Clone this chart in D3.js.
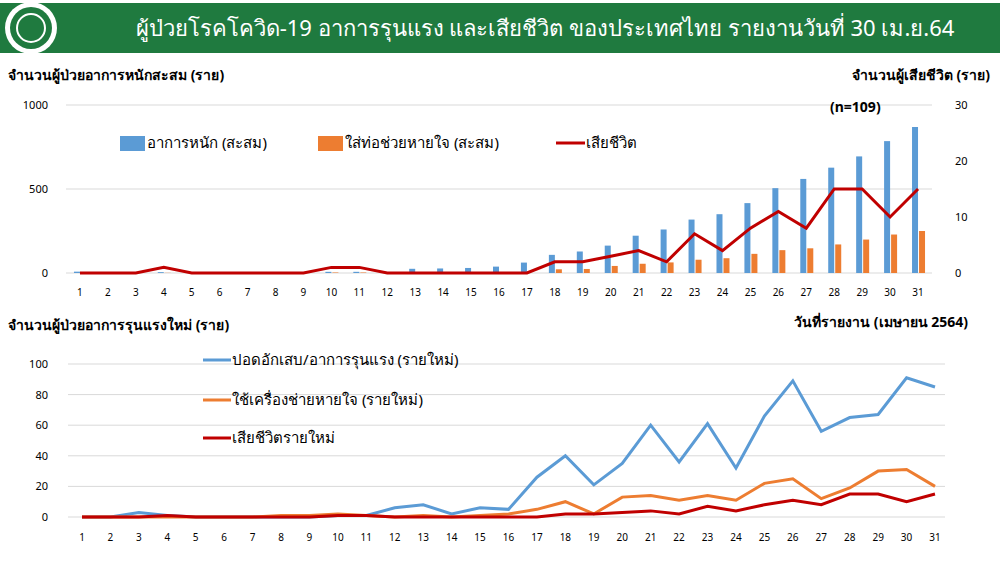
<!DOCTYPE html>
<html>
<head>
<meta charset="utf-8">
<script src="https://cdn.jsdelivr.net/npm/d3@7"></script>
<style>
  body { margin: 0; background: #fff; font-family: "Noto Sans", "DejaVu Sans", sans-serif; }
</style>
</head>
<body>
<svg id="chart" width="1000" height="563"></svg>
<script>
const days = d3.range(1, 32);
// top chart: cumulative
const severeCum = [8, 2, 2, 5, 2, 3, 3, 3, 3, 7, 7, 3, 25, 27, 30, 38, 62, 108, 128, 163, 222, 259, 318, 350, 416, 505, 560, 627, 694, 785, 869];
const ventCum = [0, 0, 0, 1, 0, 0, 0, 0, 0, 3, 3, 0, 0, 0, 0, 0, 0, 22, 24, 42, 55, 63, 79, 88, 114, 136, 147, 170, 199, 229, 250];
const deaths = [0, 0, 0, 1, 0, 0, 0, 0, 0, 1, 1, 0, 0, 0, 0, 0, 0, 2, 2, 3, 4, 2, 7, 4, 8, 11, 8, 15, 15, 10, 15];
// bottom chart: new daily
const severeNew = [0, 0, 3, 1, 0, 0, 0, 0, 0, 1, 1, 6, 8, 2, 6, 5, 26, 40, 21, 35, 60, 36, 61, 32, 66, 89, 56, 65, 67, 91, 85];
const ventNew = [0, 0, 0, 0, 0, 0, 0, 1, 1, 2, 1, 0, 1, 0, 1, 2, 5, 10, 2, 13, 14, 11, 14, 11, 22, 25, 12, 19, 30, 31, 20];
const deathsNew = deaths;
const leftTicks = [0, 500, 1000];
const rightTicks = [0, 10, 20, 30];
const bottomTicks = [0, 20, 40, 60, 80, 100];

const blue = "#5b9bd5", orange = "#ed7d31", red = "#c00000";
const svg = d3.select("#chart");
const font = "'Noto Sans', sans-serif";

// header
svg.append("rect").attr("x", 0).attr("y", 3).attr("width", 1000).attr("height", 50).attr("fill", "#1f7a3f");
svg.append("circle").attr("cx", 31).attr("cy", 28).attr("r", 26).attr("fill", "#fff");
svg.append("circle").attr("cx", 31).attr("cy", 28).attr("r", 21).attr("fill", "#1f7a3f");
svg.append("circle").attr("cx", 31).attr("cy", 28).attr("r", 14).attr("fill", "none").attr("stroke", "#fff").attr("stroke-width", 2);
svg.append("text").attr("x", 545).attr("y", 36).attr("text-anchor", "middle").attr("fill", "#fff")
  .style("font-family", font).style("font-size", "22px")
  .text("ผู้ป่วยโรคโควิด-19 อาการรุนแรง และเสียชีวิต ของประเทศไทย รายงานวันที่ 30 เม.ย.64");

// ---------- top chart ----------
const x1 = d3.scaleBand().domain(days).range([66, 932]);
const yL = d3.scaleLinear().domain([0, 1000]).range([273, 105]);
const yR = d3.scaleLinear().domain([0, 30]).range([273, 105]);

svg.append("g").selectAll("line").data(leftTicks).join("line")
  .attr("x1", 66).attr("x2", 932).attr("y1", d => yL(d)).attr("y2", d => yL(d))
  .attr("stroke", "#d9d9d9");
svg.append("g").selectAll("text").data(leftTicks).join("text")
  .attr("x", 48).attr("y", d => yL(d) + 4).attr("text-anchor", "end")
  .style("font-family", font).style("font-size", "11px").text(d => d);
svg.append("g").selectAll("text").data(rightTicks).join("text")
  .attr("x", 955).attr("y", d => yR(d) + 4).attr("text-anchor", "start")
  .style("font-family", font).style("font-size", "11px").text(d => d);

const bw = 6;
svg.append("g").selectAll("rect").data(days).join("rect")
  .attr("x", d => x1(d) + x1.bandwidth() / 2 - bw)
  .attr("y", (d, i) => yL(severeCum[i]))
  .attr("width", bw).attr("height", (d, i) => yL(0) - yL(severeCum[i]))
  .attr("fill", blue);
svg.append("g").selectAll("rect").data(days).join("rect")
  .attr("x", d => x1(d) + x1.bandwidth() / 2 + 1)
  .attr("y", (d, i) => yL(ventCum[i]))
  .attr("width", bw).attr("height", (d, i) => yL(0) - yL(ventCum[i]))
  .attr("fill", orange);
svg.append("path").datum(deaths)
  .attr("fill", "none").attr("stroke", red).attr("stroke-width", 3)
  .attr("d", d3.line().x((d, i) => x1(days[i]) + x1.bandwidth() / 2).y(d => yR(d)));

svg.append("g").selectAll("text").data(days).join("text")
  .attr("x", d => x1(d) + x1.bandwidth() / 2).attr("y", 296).attr("text-anchor", "middle")
  .style("font-family", font).style("font-size", "10px").text(d => d);

svg.append("text").attr("x", 8).attr("y", 80).style("font-family", font).style("font-size", "14px").style("font-weight", "bold")
  .text("จำนวนผู้ป่วยอาการหนักสะสม (ราย)");
svg.append("text").attr("x", 990).attr("y", 80).attr("text-anchor", "end").style("font-family", font).style("font-size", "14px").style("font-weight", "bold")
  .text("จำนวนผู้เสียชีวิต (ราย)");
svg.append("text").attr("x", 830).attr("y", 112).style("font-family", font).style("font-size", "14px").style("font-weight", "bold")
  .text("(n=109)");

const leg1 = svg.append("g").style("font-family", font).style("font-size", "15px");
leg1.append("rect").attr("x", 120).attr("y", 136).attr("width", 25).attr("height", 15).attr("fill", blue);
leg1.append("text").attr("x", 147).attr("y", 148).text("อาการหนัก (สะสม)");
leg1.append("rect").attr("x", 318).attr("y", 136).attr("width", 25).attr("height", 15).attr("fill", orange);
leg1.append("text").attr("x", 345).attr("y", 148).text("ใส่ท่อช่วยหายใจ (สะสม)");
leg1.append("line").attr("x1", 556).attr("x2", 585).attr("y1", 143).attr("y2", 143).attr("stroke", red).attr("stroke-width", 3);
leg1.append("text").attr("x", 586).attr("y", 148).text("เสียชีวิต");

// ---------- bottom chart ----------
const x2 = d3.scalePoint().domain(days).range([82, 935]);
const y2 = d3.scaleLinear().domain([0, 100]).range([517, 364]);

svg.append("g").selectAll("line").data(bottomTicks).join("line")
  .attr("x1", 68).attr("x2", 945).attr("y1", d => y2(d)).attr("y2", d => y2(d))
  .attr("stroke", "#d9d9d9");
svg.append("g").selectAll("text").data(bottomTicks).join("text")
  .attr("x", 48).attr("y", d => y2(d) + 4).attr("text-anchor", "end")
  .style("font-family", font).style("font-size", "11px").text(d => d);
svg.append("g").selectAll("text").data(days).join("text")
  .attr("x", d => x2(d)).attr("y", 541).attr("text-anchor", "middle")
  .style("font-family", font).style("font-size", "10px").text(d => d);

const line2 = d3.line().x((d, i) => x2(days[i])).y(d => y2(d));
[[severeNew, blue], [ventNew, orange], [deathsNew, red]].forEach(([s, c]) => {
  svg.append("path").datum(s).attr("fill", "none").attr("stroke", c).attr("stroke-width", 3).attr("d", line2);
});

svg.append("text").attr("x", 8).attr("y", 330).style("font-family", font).style("font-size", "14px").style("font-weight", "bold")
  .text("จำนวนผู้ป่วยอาการรุนแรงใหม่ (ราย)");
svg.append("text").attr("x", 968).attr("y", 327).attr("text-anchor", "end").style("font-family", font).style("font-size", "14px").style("font-weight", "bold")
  .text("วันที่รายงาน (เมษายน 2564)");

const leg2 = svg.append("g").style("font-family", font).style("font-size", "15px");
[["ปอดอักเสบ/อาการรุนแรง (รายใหม่)", blue, 360], ["ใช้เครื่องช่ายหายใจ (รายใหม่)", orange, 400], ["เสียชีวิตรายใหม่", red, 438]]
  .forEach(([t, c, yy]) => {
    leg2.append("line").attr("x1", 203).attr("x2", 231).attr("y1", yy).attr("y2", yy).attr("stroke", c).attr("stroke-width", 3);
    leg2.append("text").attr("x", 232).attr("y", yy + 5).text(t);
  });
</script>
</body>
</html>
